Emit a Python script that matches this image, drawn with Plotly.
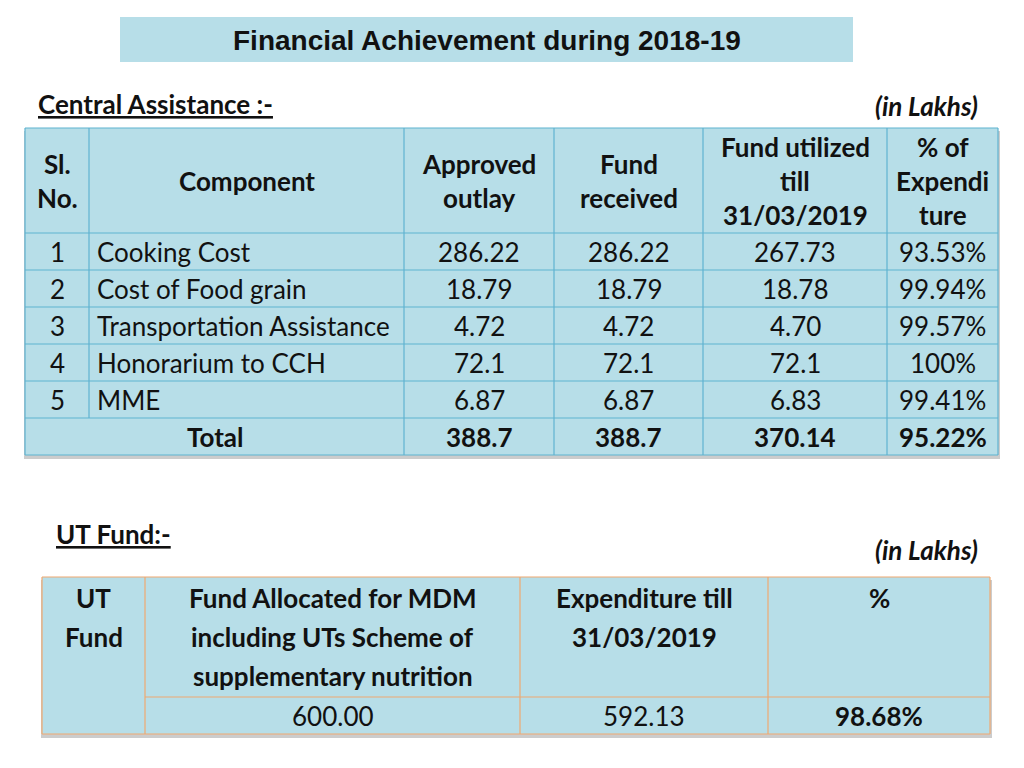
import plotly.graph_objects as go

# ---------------- data ----------------
title_text = "Financial Achievement during 2018-19"
section1_label = "Central Assistance :-"
section2_label = "UT Fund:-"
unit_label = "(in Lakhs)"

t1_headers = [["Sl.", "No."], ["Component"], ["Approved", "outlay"], ["Fund", "received"],
              ["Fund utilized", "till", "31/03/2019"], ["% of", "Expendi", "ture"]]
sl_no = ["1", "2", "3", "4", "5"]
components = ["Cooking Cost", "Cost of Food grain", "Transportation Assistance", "Honorarium to CCH", "MME"]
approved_outlay = ["286.22", "18.79", "4.72", "72.1", "6.87"]
fund_received = ["286.22", "18.79", "4.72", "72.1", "6.87"]
fund_utilized = ["267.73", "18.78", "4.70", "72.1", "6.83"]
pct_expenditure = ["93.53%", "99.94%", "99.57%", "100%", "99.41%"]
total_row = ["Total", "388.7", "388.7", "370.14", "95.22%"]

t2_headers = [["UT", "Fund"], ["Fund Allocated for MDM", "including UTs Scheme of", "supplementary nutrition"],
              ["Expenditure till", "31/03/2019"], ["%"]]
t2_values = ["600.00", "592.13", "98.68%"]

# ---------------- layout / style ----------------
W, H = 1024, 768
OFF = 8  # page body margin
FILL = "#b7dee8"
BLUE_LINE = "#5fb3d0"
ORANGE_LINE = "#f0a870"
FONT = "Lato, Open Sans, sans-serif"
FS = 26
FSB = 26

t1_cols = [25, 89, 404, 554, 703, 887, 998]
t1_rows = [128, 233, 270, 307, 344, 381, 418, 455]
t2_cols = [42, 145, 520, 768, 990]
t2_rows = [577, 697, 734]

shapes = []
annotations = []


def rect(x0, y0, x1, y1, fill=None, line=None, lw=1):
    shapes.append(dict(type="rect", xref="x", yref="y", x0=x0, y0=y0, x1=x1, y1=y1,
                       fillcolor=fill if fill else "rgba(0,0,0,0)",
                       line=dict(color=line if line else "rgba(0,0,0,0)", width=lw if line else 0),
                       layer="below"))


def seg(x0, y0, x1, y1, color, lw=1):
    shapes.append(dict(type="line", xref="x", yref="y", x0=x0, y0=y0, x1=x1, y1=y1,
                       line=dict(color=color, width=lw), layer="below"))


def text(x, y, s, bold=False, size=None, anchor="center", font=FONT, italic=False, color="#111111"):
    if size is None:
        size = FSB if bold else FS
    if bold:
        s = "<b>" + s + "</b>"
    if italic:
        s = "<i>" + s + "</i>"
    annotations.append(dict(x=x, y=y, xref="x", yref="y", text=s, showarrow=False,
                            xanchor=anchor, yanchor="middle",
                            font=dict(family=font, size=size, color=color)))


def lines_text(xc, yc_lines, lines, bold=True):
    for yy, ln in zip(yc_lines, lines):
        text(xc, yy, ln, bold=bold)


# title box
rect(120, 17, 853, 62, fill=FILL)
text(487, 40, title_text, bold=True, size=28, font="Liberation Sans Narrow, Arial Narrow, Liberation Sans, sans-serif")

# section labels
text(36, 104, "<u>" + section1_label + "</u>", bold=True, anchor="left")
text(980, 106, unit_label, bold=True, italic=True, anchor="right")
text(54, 534, "<u>" + section2_label + "</u>", bold=True, anchor="left")
text(980, 550, unit_label, bold=True, italic=True, anchor="right")

# ---- table 1 ----
rect(t1_cols[0] - 1, t1_rows[0] + 3, t1_cols[-1] + 2, t1_rows[-1] + 4, fill="rgba(0,0,0,0.2)")
rect(t1_cols[0], t1_rows[0], t1_cols[-1], t1_rows[-1], fill=FILL)
for y in t1_rows:
    seg(t1_cols[0], y, t1_cols[-1], y, BLUE_LINE, 1.2)
for i, x in enumerate(t1_cols):
    if i == 1:
        seg(x, t1_rows[0], x, t1_rows[-2], BLUE_LINE, 1.2)
    else:
        seg(x, t1_rows[0], x, t1_rows[-1], BLUE_LINE, 1.2)

centers = [(t1_cols[i] + t1_cols[i + 1]) / 2 for i in range(len(t1_cols) - 1)]
hmid = (t1_rows[0] + t1_rows[1]) / 2
for ci, hdr in enumerate(t1_headers):
    n = len(hdr)
    step = 34
    ys = [hmid + (k - (n - 1) / 2) * step for k in range(n)]
    lines_text(centers[ci], ys, hdr)

body_cols = [sl_no, components, approved_outlay, fund_received, fund_utilized, pct_expenditure]
for r in range(len(sl_no)):
    ymid = (t1_rows[r + 1] + t1_rows[r + 2]) / 2
    for ci, col in enumerate(body_cols):
        if ci == 1:
            text(t1_cols[1] + 6, ymid, col[r], anchor="left")
        else:
            text(centers[ci], ymid, col[r])

ymid = (t1_rows[-2] + t1_rows[-1]) / 2
text((t1_cols[0] + t1_cols[2]) / 2, ymid, total_row[0], bold=True)
for k, v in enumerate(total_row[1:]):
    text(centers[k + 2], ymid, v, bold=True)

# ---- table 2 ----
rect(t2_cols[0] - 1, t2_rows[0] + 3, t2_cols[-1] + 2, t2_rows[-1] + 4, fill="rgba(0,0,0,0.2)")
rect(t2_cols[0], t2_rows[0], t2_cols[-1], t2_rows[-1], fill=FILL)
seg(t2_cols[0], t2_rows[0], t2_cols[-1], t2_rows[0], ORANGE_LINE, 1.2)
seg(t2_cols[1], t2_rows[1], t2_cols[-1], t2_rows[1], ORANGE_LINE, 1.2)
seg(t2_cols[0], t2_rows[2], t2_cols[-1], t2_rows[2], ORANGE_LINE, 1.2)
for x in t2_cols:
    seg(x, t2_rows[0], x, t2_rows[-1], ORANGE_LINE, 1.2)

c2 = [(t2_cols[i] + t2_cols[i + 1]) / 2 for i in range(len(t2_cols) - 1)]
for ci, hdr in enumerate(t2_headers):
    ys = [598 + k * 39 for k in range(len(hdr))]
    lines_text(c2[ci], ys, hdr)
ymid2 = (t2_rows[1] + t2_rows[2]) / 2
for k, v in enumerate(t2_values):
    text(c2[k + 1], ymid2, v, bold=(k == 2))

fig = go.Figure()
fig.update_layout(
    width=W - OFF, height=H - OFF,
    margin=dict(l=0, r=0, t=0, b=0),
    paper_bgcolor="white", plot_bgcolor="white",
    xaxis=dict(range=[OFF, W], visible=False, fixedrange=True),
    yaxis=dict(range=[H, OFF], visible=False, fixedrange=True),
    shapes=shapes, annotations=annotations,
    showlegend=False,
)
fig.write_html("out.html", config={"displayModeBar": False})
